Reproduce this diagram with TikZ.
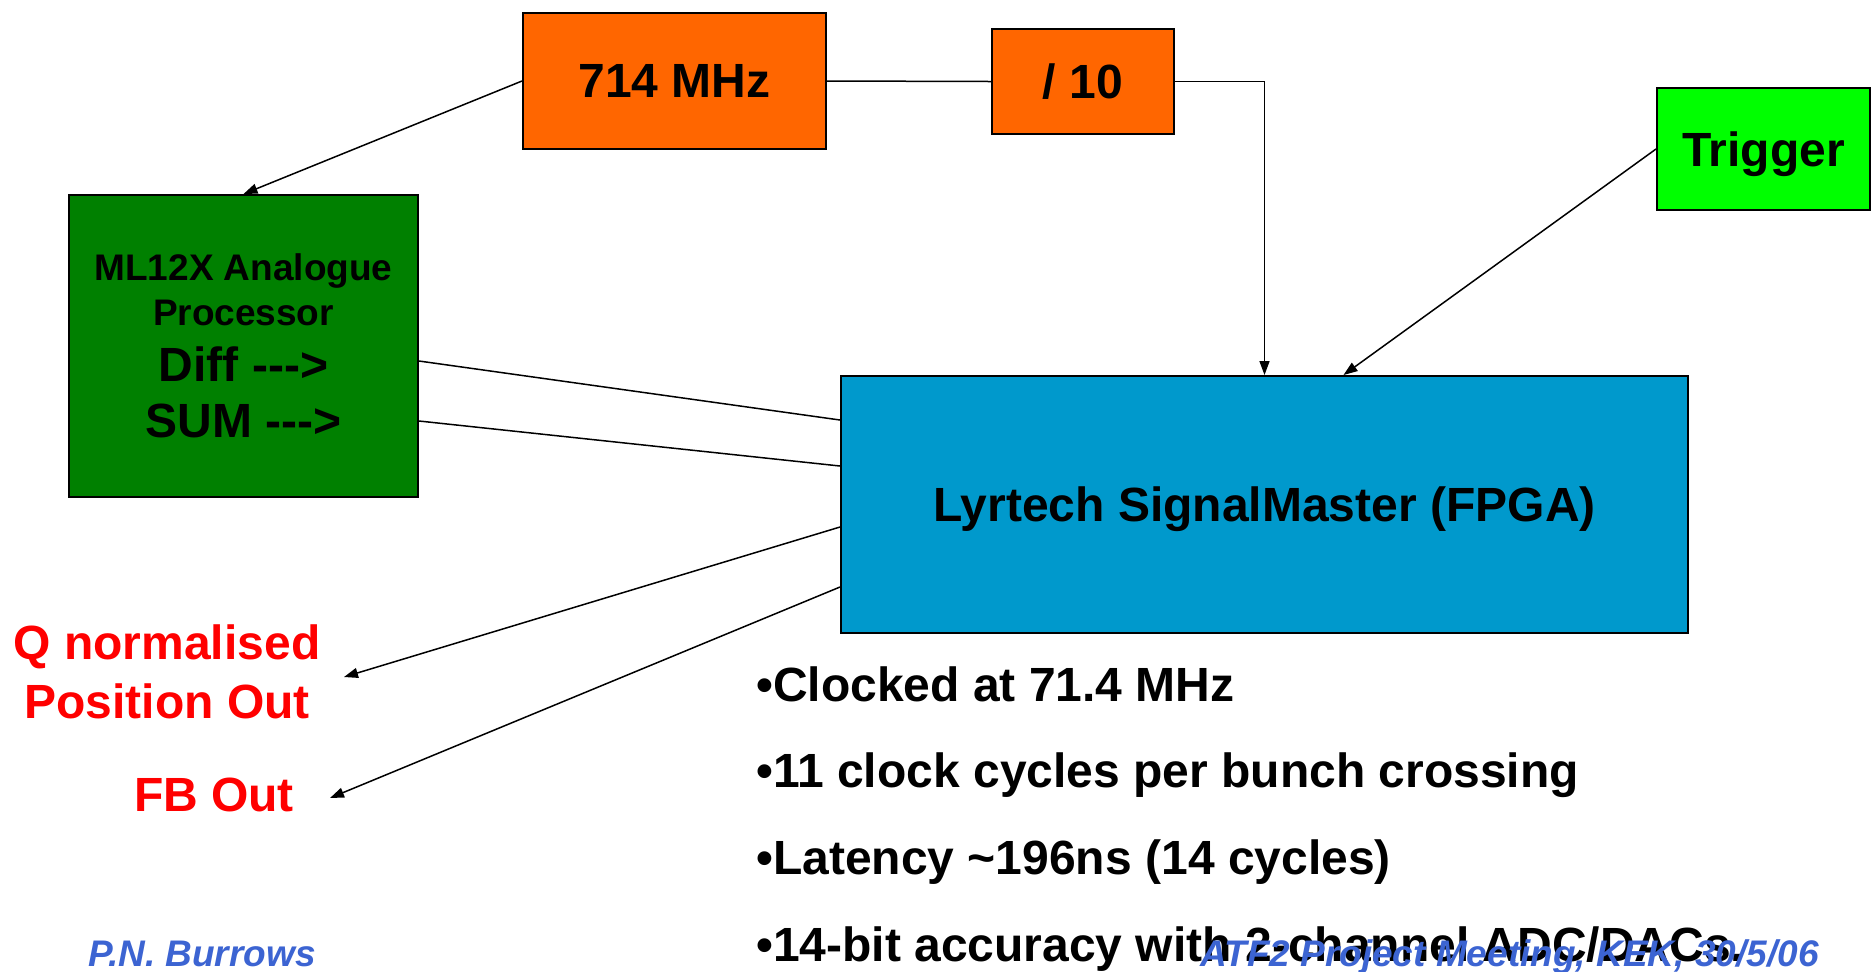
\documentclass[tikz,border=0pt]{standalone}
\usepackage{fontspec}
\setmainfont{Liberation Sans}
\usetikzlibrary{arrows.meta}
\definecolor{clkorange}{HTML}{FF6600}
\definecolor{procgreen}{HTML}{008000}
\definecolor{trggreen}{HTML}{00FF00}
\definecolor{fpgablue}{HTML}{0099CC}
\definecolor{footblue}{RGB}{60,100,210}
\tikzset{
  blockbox/.style={draw=black, line width=1pt, inner sep=0pt, text depth=0pt, font=\fontsize{24}{28}\selectfont\bfseries},
  bigtxt/.style={inner sep=0pt, font=\fontsize{24}{28}\selectfont\bfseries},
  foottxt/.style={inner sep=0pt, text=footblue, font=\fontsize{18.5}{22}\selectfont\bfseries\itshape},
  sig/.style={line width=0.75pt},
  sigarr/.style={sig, -{Triangle[length=7pt,width=5pt]}},
}
\begin{document}
\begin{tikzpicture}[x=0.5pt,y=-0.5pt]
  \useasboundingbox (0,0) rectangle (1872,971);

  % blocks
  \node[blockbox, fill=clkorange, minimum width=151.5pt, minimum height=68pt] (clk) at (674.5,81) {714 MHz};
  \node[blockbox, fill=clkorange, minimum width=91pt, minimum height=52.5pt] (div) at (1083,81.5) {/ 10};
  \node[blockbox, fill=trggreen, minimum width=106.5pt, minimum height=61pt] (trg) at (1763.5,149) {Trigger};
  \node[blockbox, fill=procgreen, minimum width=174.5pt, minimum height=151pt, align=center,
        font=\fontsize{18.5}{22.5}\selectfont\bfseries] (proc) at (243.5,346)
        {ML12X Analogue\\Processor\\[5.5pt]{\fontsize{24}{28.5}\selectfont Diff -{}-{}->}\\[5.5pt]{\fontsize{24}{28.5}\selectfont SUM -{}-{}->}};
  \node[blockbox, fill=fpgablue, minimum width=423.5pt, minimum height=128.5pt] (fpga) at (1264.5,504.5) {Lyrtech SignalMaster (FPGA)};

  % outputs
  \node[bigtxt, text=red, anchor=base] (qout) at (167,659) {Q normalised};
  \node[bigtxt, text=red, anchor=base] (posout) at (167,718) {Position Out};
  \node[bigtxt, text=red, anchor=base] (fbout) at (214,811) {FB Out};
  \coordinate (qend) at (344,677);
  \coordinate (fbend) at (330,798);

  % connectors
  \draw[sigarr] (clk.west) -- (proc.north);
  \draw[sig] (clk.east) -- (div.west);
  \draw[sigarr] (div.east) -| (fpga.north);
  \draw[sigarr] (trg.west) -- ([xshift=39.5pt]fpga.north);
  \draw[sig] ([yshift=-7.5pt]proc.east) -- ([yshift=42.25pt]fpga.west);
  \draw[sig] ([yshift=-37.5pt]proc.east) -- ([yshift=19.25pt]fpga.west);
  \draw[sigarr] ([yshift=-11.25pt]fpga.west) -- (qend);
  \draw[sigarr] ([yshift=-41.25pt]fpga.west) -- (fbend);

  % notes
  \node[bigtxt, anchor=base west] (n1) at (756,701) {\textbullet Clocked at 71.4 MHz};
  \node[bigtxt, anchor=base west] (n2) at (756,787) {\textbullet 11 clock cycles per bunch crossing};
  \node[bigtxt, anchor=base west] (n3) at (756,874) {\textbullet Latency \textasciitilde196ns (14 cycles)};
  \node[bigtxt, anchor=base west] (n4) at (756,961) {\textbullet 14-bit accuracy with 2-channel ADC/DACs.};

  % footer
  \node[foottxt, anchor=base] (author) at (202,966) {P.N. Burrows};
  \node[foottxt, anchor=base west] (meeting) at (1200,966) {ATF2 Project Meeting, KEK, 30/5/06};
\end{tikzpicture}
\end{document}
